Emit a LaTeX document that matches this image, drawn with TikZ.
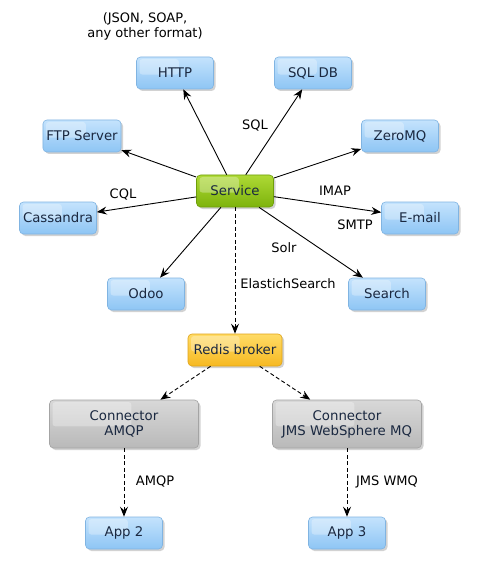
\documentclass[tikz,border=0pt]{standalone}
\usepackage{fontspec}
\setmainfont{DejaVu Sans}
\usetikzlibrary{arrows.meta,shadows,calc}
\definecolor{boxtext}{HTML}{1A2840}
\definecolor{bluetop}{HTML}{C4E3FD}
\definecolor{bluebot}{HTML}{8EC5F4}
\definecolor{blueline}{HTML}{80B4E2}
\definecolor{greentop}{HTML}{AED935}
\definecolor{greenbot}{HTML}{7DB30C}
\definecolor{greenline}{HTML}{6E9E0A}
\definecolor{yellowtop}{HTML}{FFDB66}
\definecolor{yellowbot}{HTML}{F6B922}
\definecolor{yellowline}{HTML}{E0A418}
\definecolor{greytop}{HTML}{D8D8D8}
\definecolor{greybot}{HTML}{B9B9B9}
\definecolor{greyline}{HTML}{A4A4A4}
\tikzset{
  box/.style={draw=#1line, line width=0.6pt, rounded corners=4pt, top color=#1top, bottom color=#1bot,
    minimum width=77pt, minimum height=32pt, text=boxtext, font=\fontsize{13.3}{15}\selectfont,
    drop shadow={shadow xshift=2pt, shadow yshift=-2pt, opacity=0.35},
    path picture={\fill[white,opacity=0.3,rounded corners=3pt]
      ($(path picture bounding box.north west)+(3pt,-2pt)$) rectangle
      ($(path picture bounding box.north west)!0.55!(path picture bounding box.south east)$);}},
  lbl/.style={font=\fontsize{13}{15}\selectfont, inner sep=1pt},
  link/.style={-{Stealth[length=10pt,width=8pt,inset=3.5pt]}, line width=0.9pt},
  dlink/.style={link, dash pattern=on 4pt off 2.5pt}
}
\begin{document}
\begin{tikzpicture}[x=1pt,y=-1pt]
\useasboundingbox[fill=white] (0,0) rectangle (484,561);
% boxes
\node[box=blue] (http) at (175,73) {HTTP};
\node[box=blue] (sqldb) at (313,73) {SQL DB};
\node[box=blue] (ftp) at (82,136) {FTP Server};
\node[box=blue] (zeromq) at (400,136) {ZeroMQ};
\node[box=green] (service) at (235,191) {Service};
\node[box=blue] (cassandra) at (58,218) {Cassandra};
\node[box=blue] (email) at (420,218) {E-mail};
\node[box=blue] (odoo) at (146,294) {Odoo};
\node[box=blue] (search) at (387,294) {Search};
\node[box=yellow, minimum width=94pt] (redis) at (235,350) {Redis broker};
\node[box=grey, minimum width=149pt, minimum height=48pt, align=center] (amqp) at (124,424) {Connector\\AMQP};
\node[box=grey, minimum width=149pt, minimum height=48pt, align=center] (jms) at (347,424) {Connector\\JMS WebSphere MQ};
\node[box=blue] (app2) at (124,533) {App 2};
\node[box=blue] (app3) at (347,533) {App 3};
% labels
\node[lbl, align=center] (formats) at (145,26) {(JSON, SOAP,\\any other format)};
\node[lbl] (sql) at (255,126) {SQL};
\node[lbl] (cql) at (123,195) {CQL};
\node[lbl] (imap) at (335,191) {IMAP};
\node[lbl] (smtp) at (355,225) {SMTP};
\node[lbl] (solr) at (284,248) {Solr};
\node[lbl] (elastic) at (288,284) {ElastichSearch};
\node[lbl] (amqplbl) at (155,482) {AMQP};
\node[lbl] (jmslbl) at (387,482) {JMS WMQ};
% connectors
\foreach \t in {http,sqldb,ftp,zeromq,cassandra,email,odoo,search}
  \draw[link] (service) -- (\t);
\draw[dlink] (service) -- (redis);
\draw[dlink] (redis) -- (amqp);
\draw[dlink] (redis) -- (jms);
\draw[dlink] (amqp) -- (app2);
\draw[dlink] (jms) -- (app3);
\end{tikzpicture}
\end{document}
